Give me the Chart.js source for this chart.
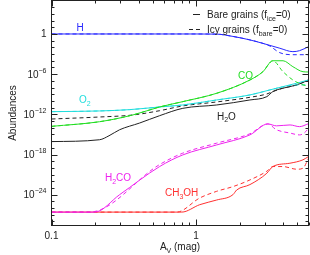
<!DOCTYPE html>
<html>
<head>
<meta charset="utf-8">
<script src="https://cdn.jsdelivr.net/npm/chart.js@4.4.1/dist/chart.umd.min.js"></script>
<style>
  html, body { margin: 0; padding: 0; background: #fff; }
  canvas { display: block; }
</style>
</head>
<body>
<canvas id="grafico" width="310" height="255"></canvas>
<script>
// A_V (mag) and abundances
const hAv = [0.1, 0.5, 1.0, 1.39, 1.8, 2.36, 3.0, 3.8, 4.68, 5.2, 6];
const hBare = [1, 1, 1, 0.95, 0.43, 0.13, 0.032, 0.0074, 0.0023, 0.0032, 0.0126];
const hIcyAv = [0.1, 0.5, 1.0, 1.39, 1.8, 2.36, 3.0, 3.24, 3.8, 4.68, 6];
const hIcy = [1, 1, 1, 0.95, 0.43, 0.13, 0.032, 0.016, 0.0016, 0.0008, 0.0008];

const coAv = [0.1, 0.215, 0.364, 0.56, 0.81, 1.39, 2.36, 2.9, 3.4, 4.0, 4.68, 5.5, 6];
const coBare = [1.6e-14, 7.9e-14, 7.9e-13, 1.26e-11, 7.9e-11, 1.4e-9, 1.35e-7, 2.3e-6, 1.0e-4, 1.0e-4, 1.3e-5, 2.3e-6, 2.1e-6];
const coIcy = [1.6e-14, 7.9e-14, 7.9e-13, 1.26e-11, 7.9e-11, 1.4e-9, 1.35e-7, 2.3e-6, 1.0e-4, 2.3e-6, 1.35e-7, 2.5e-8, 1.7e-8];

const o2Av = [0.1, 0.215, 0.346, 0.56, 0.81, 1.39, 2.36, 3.24, 3.98, 4.96, 6];
const o2Bare = [2.5e-12, 3.2e-12, 5.0e-12, 1.26e-11, 2.5e-11, 1.4e-10, 7.9e-10, 4.4e-9, 1.35e-8, 4.4e-8, 1.35e-7];
const o2Icy = [2.5e-12, 3.2e-12, 5.0e-12, 1.26e-11, 2.5e-11, 1.4e-10, 7.9e-10, 4.4e-9, 1.26e-8, 2.5e-8, 2.5e-8];

const h2oAv = [0.1, 0.215, 0.25, 0.296, 0.407, 0.56, 0.81, 1.39, 2.36, 3.09, 3.4, 3.98, 4.99, 6];
const h2oBare = [8.5e-17, 1.6e-16, 6.3e-16, 5e-15, 5e-14, 6.3e-13, 7.9e-12, 2.5e-11, 1.4e-10, 4.4e-10, 2.5e-9, 7.9e-9, 2.5e-8, 1.35e-7];
const h2oIcyAv = [0.1, 0.215, 0.364, 0.56, 0.81, 1.39, 2.36, 3.09, 3.4, 3.98, 4.99, 6];
const h2oIcy = [2e-13, 4e-13, 7.9e-13, 3.5e-12, 1.8e-11, 7.1e-11, 3.5e-10, 1.1e-9, 2.5e-9, 7.9e-9, 2.5e-8, 1.35e-7];

const h2coAv = [0.1, 0.199, 0.296, 0.56, 0.81, 1.39, 2.36, 3.14, 3.6, 4.47, 5.2, 6];
const h2coBare = [2.5e-27, 2.5e-27, 1e-24, 1.6e-20, 8.7e-19, 2.7e-17, 8.5e-16, 3.7e-14, 1.9e-14, 2.6e-14, 1.45e-14, 4e-14];
const h2coIcyAv = [0.1, 0.183, 0.56, 0.81, 1.39, 2.36, 3.14, 3.6, 4.47, 5.2, 5.6, 6];
const h2coIcy = [2.5e-27, 2.5e-27, 3.2e-20, 1.6e-18, 5e-17, 1.26e-15, 3.7e-14, 5e-15, 1.6e-15, 8.5e-16, 1.6e-15, 7.9e-15];

const ch3ohAv = [0.1, 0.796, 1.06, 1.39, 1.8, 1.91, 2.36, 3.09, 3.4, 4.46, 5.49, 6];
const ch3ohBare = [2.5e-27, 2.5e-27, 3.2e-26, 1.6e-25, 1e-24, 5e-24, 3.2e-23, 1.6e-21, 1.6e-20, 5e-20, 1.6e-19, 5e-19];
const ch3ohIcyAv = [0.1, 0.735, 1.06, 1.39, 1.8, 2.36, 3.09, 3.4, 3.98, 4.99, 5.49, 6];
const ch3ohIcy = [2.5e-27, 2.5e-27, 3.2e-25, 3.2e-24, 1.6e-23, 1.6e-22, 3.2e-21, 1.6e-20, 1.6e-20, 6.3e-21, 8.9e-21, 2.8e-19];

// axis ticks
const yTickExps = [4, 3, 2, 1, 0, -1, -2, -3, -4, -5, -6, -7, -8, -9, -10, -11, -12, -13, -14, -15, -16, -17, -18,
  -19, -20, -21, -22, -23, -24, -25, -26, -27, -28];
const yLabelExps = [0, -6, -12, -18, -24];
const xTickValues = [0.1, 0.2, 0.3, 0.4, 0.5, 0.6, 0.7, 0.8, 0.9, 1, 2, 3, 4, 5, 6];
const xLabelValues = [0.1, 1];

const FONT = '"Liberation Sans", Arial, sans-serif';

function serie(av, vals, color, dashed) {
    return {
        data: av.map((x, i) => ({ x: x, y: vals[i] })),
        borderColor: color,
        borderWidth: 1,
        borderDash: dashed ? [4, 3] : [],
        pointRadius: 0,
        cubicInterpolationMode: 'monotone',
        fill: false
    };
}

// texto com sub/sobrescrito
function richText(ctx, parts, x, y, align, color, size) {
    size = size || 10;
    const small = Math.round(size * 0.7);
    ctx.save();
    ctx.fillStyle = color;
    ctx.textBaseline = 'alphabetic';
    ctx.textAlign = 'left';
    let w = 0;
    for (const [t, k] of parts) {
        ctx.font = (k ? small : size) + 'px ' + FONT;
        w += ctx.measureText(t).width;
    }
    let cx = align === 'right' ? x - w : align === 'center' ? x - w / 2 : x;
    for (const [t, k] of parts) {
        ctx.font = (k ? small : size) + 'px ' + FONT;
        const dy = k === 'sup' ? -5 : k === 'sub' ? 2.5 : 0;
        ctx.fillText(t, cx, y + dy);
        cx += ctx.measureText(t).width;
    }
    ctx.restore();
}

const framePlugin = {
    id: 'frame',
    afterDatasetsDraw(chart) {
        const ctx = chart.ctx;
        const a = chart.chartArea;
        const xs = chart.scales.x, ys = chart.scales.y;
        ctx.save();
        ctx.strokeStyle = '#222';
        ctx.lineWidth = 1;
        ctx.strokeRect(a.left, a.top, a.right - a.left, a.bottom - a.top);
        ctx.beginPath();
        for (const e of yTickExps) {
            const py = Math.round(ys.getPixelForValue(Math.pow(10, e))) + 0.5;
            const len = e % 6 === 0 ? 6 : 3;
            ctx.moveTo(a.left, py); ctx.lineTo(a.left + len, py);
            ctx.moveTo(a.right, py); ctx.lineTo(a.right - len, py);
        }
        for (const v of xTickValues) {
            const px = Math.round(xs.getPixelForValue(v)) + 0.5;
            const len = (v === 0.1 || v === 1) ? 6 : 3;
            ctx.moveTo(px, a.bottom); ctx.lineTo(px, a.bottom - len);
            ctx.moveTo(px, a.top); ctx.lineTo(px, a.top + len);
        }
        ctx.stroke();
        ctx.restore();
    },
    afterDraw(chart) {
        const ctx = chart.ctx;
        const a = chart.chartArea;
        const xs = chart.scales.x, ys = chart.scales.y;

        for (const e of yLabelExps) {
            const py = ys.getPixelForValue(Math.pow(10, e));
            const parts = e === 0 ? [['1', '']] : [['10', ''], ['\u2212' + (-e), 'sup']];
            richText(ctx, parts, a.left - 5, py + 3.5, 'right', '#222');
        }
        for (const v of xLabelValues) {
            richText(ctx, [[String(v), '']], xs.getPixelForValue(v), 238.5, 'center', '#222');
        }
        // titulos dos eixos
        richText(ctx, [['A', ''], ['V', 'sub'], [' (mag)', '']], (a.left + a.right) / 2, 250, 'center', '#222');
        ctx.save();
        ctx.translate(16, 113);
        ctx.rotate(-Math.PI / 2);
        richText(ctx, [['Abundances', '']], 0, 0, 'center', '#222');
        ctx.restore();

        // nomes das especies
        richText(ctx, [['H', '']], 80, 30.5, 'center', '#2828ff');
        richText(ctx, [['O', ''], ['2', 'sub']], 79, 103, 'left', '#22dddd');
        richText(ctx, [['CO', '']], 238, 78.5, 'left', '#22dd22');
        richText(ctx, [['H', ''], ['2', 'sub'], ['O', '']], 217, 119.5, 'left', '#222');
        richText(ctx, [['H', ''], ['2', 'sub'], ['CO', '']], 105, 181, 'left', '#ee22ee');
        richText(ctx, [['CH', ''], ['3', 'sub'], ['OH', '']], 165, 196, 'left', '#ff3030');

        // legenda
        ctx.save();
        ctx.strokeStyle = '#222';
        ctx.lineWidth = 1;
        ctx.beginPath();
        ctx.moveTo(193, 14.5); ctx.lineTo(200, 14.5);
        ctx.stroke();
        ctx.setLineDash([4, 3]);
        ctx.beginPath();
        ctx.moveTo(189, 29.5); ctx.lineTo(200, 29.5);
        ctx.stroke();
        ctx.restore();
        richText(ctx, [['Bare grains (f', ''], ['ice', 'sub'], ['=0)', '']], 207, 18, 'left', '#222');
        richText(ctx, [['Icy grains (f', ''], ['bare', 'sub'], ['=0)', '']], 207, 33, 'left', '#222');
    }
};

new Chart(document.getElementById('grafico').getContext('2d'), {
    type: 'line',
    data: {
        datasets: [
            serie(hAv, hBare, '#2828ff', false),
            serie(hIcyAv, hIcy, '#2828ff', true),
            serie(coAv, coBare, '#22dd22', false),
            serie(coAv, coIcy, '#22dd22', true),
            serie(o2Av, o2Bare, '#22dddd', false),
            serie(o2Av, o2Icy, '#22dddd', true),
            serie(h2oAv, h2oBare, '#222222', false),
            serie(h2oIcyAv, h2oIcy, '#222222', true),
            serie(h2coAv, h2coBare, '#ee22ee', false),
            serie(h2coIcyAv, h2coIcy, '#ee22ee', true),
            serie(ch3ohAv, ch3ohBare, '#ff3030', false),
            serie(ch3ohIcyAv, ch3ohIcy, '#ff3030', true)
        ]
    },
    options: {
        responsive: false,
        animation: false,
        layout: { padding: { left: 51.5, top: 0.5, right: 1.5, bottom: 29.5 } },
        plugins: { legend: { display: false }, tooltip: { enabled: false } },
        scales: {
            x: { type: 'logarithmic', min: 0.1, max: 6, display: false },
            y: { type: 'logarithmic', min: 2.5e-29, max: 1e5, display: false }
        }
    },
    plugins: [framePlugin]
});
</script>
</body>
</html>
